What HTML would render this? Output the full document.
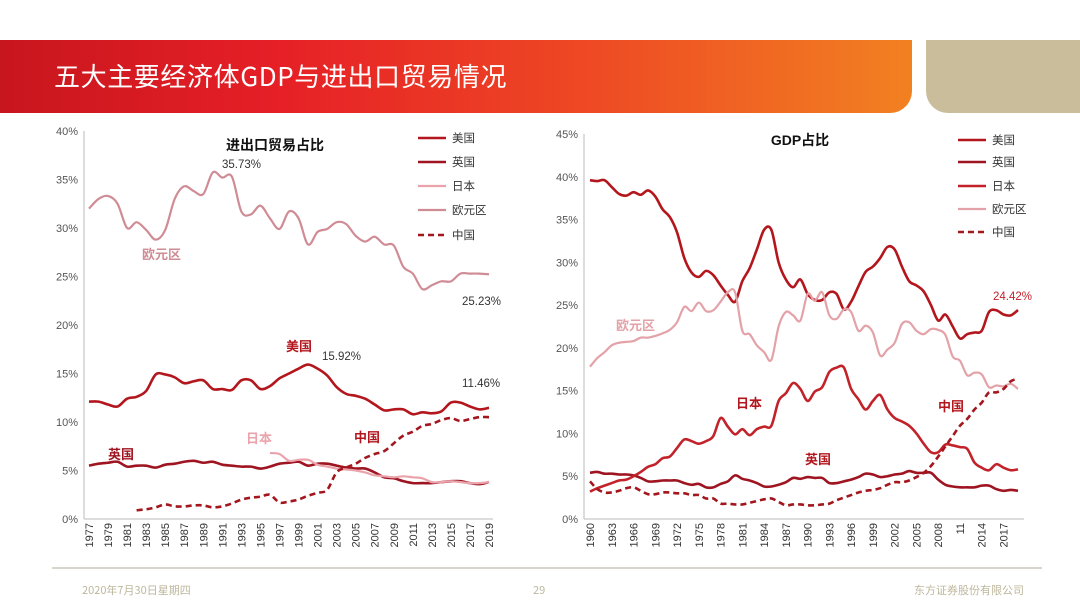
<!DOCTYPE html>
<html><head><meta charset="utf-8">
<style>
body{margin:0;width:1080px;height:608px;background:#fff;overflow:hidden;font-family:"Liberation Sans","Noto Sans CJK SC",sans-serif;position:relative}
#hdr{position:absolute;left:0;top:40px;width:912px;height:73px;background:linear-gradient(90deg,#c8161e 0%,#e61f26 30%,#ee4a24 65%,#f28121 100%);border-bottom-right-radius:22px}
#hdr span{position:absolute;left:54px;top:19px;color:#fff;font-size:26px;font-family:"Noto Sans CJK SC",sans-serif;letter-spacing:0.6px;line-height:34px}
#tan{position:absolute;left:926px;top:40px;width:154px;height:73px;background:#c9bd9b;border-bottom-left-radius:22px}
#fl{position:absolute;left:52px;top:567px;width:990px;height:2px;background:#d8d6cc}
.ft{position:absolute;top:582px;font-size:11px;color:#bdb79c;font-family:"Noto Sans CJK SC",sans-serif}
svg{position:absolute;left:0;top:0}
</style></head><body>
<div id="hdr"><span>五大主要经济体GDP与进出口贸易情况</span></div>
<div id="tan"></div>
<div id="fl"></div>
<div class="ft" style="left:82px">2020年7月30日星期四</div>
<div class="ft" style="left:533px">29</div>
<div class="ft" style="left:914px">东方证券股份有限公司</div>
<svg id="chart" width="1080" height="608"></svg>
<script>
const tradeYears=[];for(let y=1977;y<=2019;y++)tradeYears.push(y);
const tradeEuro=[32,33,33.3,32.5,30,30.6,29.8,28.8,29.8,33,34.3,33.8,33.5,35.73,35.2,35.3,31.7,31.4,32.3,31,29.9,31.7,31,28.3,29.6,29.9,30.6,30.4,29.2,28.6,29.1,28.3,28.2,26,25.3,23.7,24.1,24.5,24.5,25.3,25.3,25.3,25.23];
const tradeUS=[12.1,12.1,11.8,11.6,12.4,12.6,13.2,14.9,14.9,14.6,14,14.2,14.3,13.4,13.4,13.3,14.3,14.3,13.4,13.7,14.5,15,15.5,15.92,15.5,14.8,13.6,12.9,12.7,12.4,11.8,11.2,11.3,11.3,10.8,11,10.9,11.1,12,12,11.6,11.3,11.46];
const tradeUK=[5.5,5.7,5.8,5.9,5.4,5.5,5.5,5.3,5.6,5.7,5.9,6,5.8,5.9,5.6,5.5,5.4,5.4,5.2,5.4,5.7,5.8,5.9,5.5,5.7,5.7,5.5,5.3,5.2,5.2,4.8,4.3,4.2,3.9,3.7,3.7,3.7,3.8,3.9,3.9,3.7,3.6,3.8];
const tradeJapan=[null,null,null,null,null,null,null,null,null,null,null,null,null,null,null,null,null,null,null,6.8,6.7,6,6.1,6.1,5.6,5.4,5.2,5.1,5,4.8,4.5,4.4,4.3,4.4,4.3,4.2,3.8,3.8,3.9,3.8,3.7,3.7,3.8];
const tradeChina=[null,null,null,null,null,0.9,1,1.2,1.5,1.3,1.3,1.4,1.4,1.2,1.3,1.6,2,2.2,2.3,2.5,1.7,1.8,2,2.4,2.7,3,4.8,5.3,5.7,6.3,6.7,7,7.8,8.6,9,9.6,9.8,10.2,10.4,10.1,10.3,10.5,10.5];
const tradeTicks=[0,5,10,15,20,25,30,35,40];
const gdpYears=[];for(let y=1960;y<=2019;y++)gdpYears.push(y);
const gdpUS=[39.6,39.5,39.6,38.8,38,37.8,38.2,37.9,38.4,37.7,36.2,35.3,33.5,30.5,28.8,28.3,29,28.5,27.3,26.2,25.4,27.8,29.3,31.5,33.8,33.8,30,28,27.1,28,26.3,25.6,25.6,26.5,26.3,24.5,25.4,27.2,28.9,29.5,30.5,31.8,31.5,29.5,27.8,27.3,26.6,25,23.2,23.9,22.5,21.1,21.6,21.8,22,24.2,24.4,23.9,23.8,24.42];
const gdpJapan=[3.2,3.6,3.9,4.2,4.5,4.6,5,5.5,6.1,6.4,7.1,7.3,8.3,9.3,9.1,8.8,9.1,9.7,11.8,10.8,9.9,10.5,9.8,10.5,10.8,10.9,13.8,14.7,15.9,15.2,13.8,14.9,15.4,17.2,17.7,17.7,15.2,14,12.8,13.8,14.5,12.8,11.8,11.4,10.9,10,8.8,7.8,7.8,8.7,8.6,8.4,8.2,6.6,6,5.7,6.4,6,5.7,5.8];
const gdpUK=[5.4,5.5,5.3,5.3,5.2,5.2,5.1,4.8,4.4,4.4,4.5,4.5,4.5,4.2,4,4.1,3.7,3.7,4.1,4.4,5.1,4.7,4.5,4.2,3.8,3.8,4,4.3,4.8,4.7,4.9,4.8,4.8,4.2,4.2,4.4,4.6,4.9,5.3,5.2,4.9,5,5.2,5.3,5.6,5.4,5.4,5.4,4.6,4,3.8,3.7,3.7,3.7,3.9,3.9,3.5,3.3,3.4,3.3];
const gdpEuro=[17.8,18.8,19.5,20.3,20.6,20.7,20.8,21.2,21.2,21.4,21.7,22.1,23,24.8,24.3,25.3,24.3,24.4,25.4,26.5,26.5,22,21.6,20.3,19.5,18.6,22.5,24.2,23.8,23.2,26.3,25.5,26.5,23.8,23.4,24.5,24.2,22,22.6,21.8,19.1,19.8,20.6,22.8,23,22,21.6,22.2,22.1,21.5,19,18.5,16.8,17.1,16.9,15.4,15.6,15.5,15.8,15.2];
const gdpChina=[4.4,3.5,3.1,3.1,3.3,3.6,3.7,3.3,2.9,2.9,3.1,3.1,3,3,2.8,2.8,2.4,2.4,1.8,1.8,1.7,1.7,1.9,2.1,2.3,2.4,2,1.6,1.7,1.7,1.6,1.6,1.7,1.8,2.2,2.5,2.8,3.1,3.3,3.4,3.6,4,4.3,4.3,4.5,4.9,5.4,6.2,7.3,8.5,9.7,10.9,11.7,12.8,13.6,14.8,14.8,15.2,16.1,16.4];
const gdpTicks=[0,5,10,15,20,25,30,35,40,45];

const svg=document.getElementById('chart');const NS='http://www.w3.org/2000/svg';
function mk(t,a,txt){const e=document.createElementNS(NS,t);for(const k in a)e.setAttribute(k,a[k]);if(txt!=null)e.textContent=txt;svg.appendChild(e);return e;}
function smooth(pts){let d='M'+pts[0][0]+','+pts[0][1];for(let i=0;i<pts.length-1;i++){const p0=pts[i-1]||pts[i],p1=pts[i],p2=pts[i+1],p3=pts[i+2]||p2;const c1=[p1[0]+(p2[0]-p0[0])/6,p1[1]+(p2[1]-p0[1])/6],c2=[p2[0]-(p3[0]-p1[0])/6,p2[1]-(p3[1]-p1[1])/6];d+=' C'+c1.join(',')+' '+c2.join(',')+' '+p2.join(',');}return d;}
function chart(o){
  const x=i=>o.x0+(o.x1-o.x0)*i/(o.years.length-1);
  const y=v=>o.y0-(o.y0-o.yTop)*v/o.ticks[o.ticks.length-1];
  let e=mk('line',{x1:o.ax,y1:o.yTop,x2:o.ax,y2:o.y0,stroke:'#bbb','stroke-width':1});
  
  e=mk('line',{x1:o.ax,y1:o.y0,x2:o.axEnd,y2:o.y0,stroke:'#bbb','stroke-width':1});
  
  o.ticks.forEach(t=>{e=mk('text',{x:o.ax-6,y:y(t)+4,'text-anchor':'end','font-size':11,fill:'#555'},t+'%');
    });
  o.years.forEach((yr,i)=>{if(i%o.step)return;const lab=o.labFn?o.labFn(yr):String(yr);
    e=mk('text',{x:0,y:0,transform:`translate(${x(i)+4},${o.y0+4}) rotate(-90)`,'text-anchor':'end','font-size':11,fill:'#333'},lab);
    });
  o.series.forEach(s=>{let seg=[];const segs=[];s.data.forEach((v,i)=>{if(v==null){if(seg.length)segs.push(seg);seg=[];}else seg.push([x(i),y(v)]);});if(seg.length)segs.push(seg);
    segs.forEach(sg=>{const a={d:smooth(sg),fill:'none',stroke:s.c,'stroke-width':s.w||2.6,'stroke-linejoin':'round'};if(s.dash)a['stroke-dasharray']='6,4';
      e=mk('path',a);});});
  o.series.forEach((s,k)=>{const ly=o.legY[k];const a={x1:o.legX,y1:ly,x2:o.legX+28,y2:ly,stroke:s.c,'stroke-width':s.w||2.6};if(s.dash)a['stroke-dasharray']='6,4';
    e=mk('line',a);
    e=mk('text',{x:o.legX+34,y:ly+4,'font-size':11.5,fill:'#333'},s.label);});
  e=mk('text',{x:o.titleX,y:o.titleY,'text-anchor':'middle','font-size':14,'font-weight':'bold',fill:'#111'},o.title);
  
  return {x,y};
}
const L=chart({id:'trade',years:tradeYears,x0:89,x1:489,ax:84,axEnd:493,y0:519,yTop:131,ticks:tradeTicks,step:2,title:'进出口贸易占比',titleX:275,titleY:150,legX:418,legY:[138,162,186,210,235],
 series:[{n:'us',label:'美国',data:tradeUS,c:'#b3161d'},{n:'uk',label:'英国',data:tradeUK,c:'#9e1420'},{n:'japan',label:'日本',data:tradeJapan,c:'#eaa3ab',w:2.2},{n:'euro',label:'欧元区',data:tradeEuro,c:'#cf8c95',w:2.2},{n:'china',label:'中国',data:tradeChina,c:'#a3161e',dash:1}]});
const R=chart({id:'gdp',years:gdpYears,x0:590,x1:1018,ax:584,axEnd:1024,y0:519,yTop:134,ticks:gdpTicks,step:3,labFn:y=>y===2011?'11':String(y),title:'GDP占比',titleX:800,titleY:145,legX:958,legY:[140,162,186,209,232],
 series:[{n:'us',label:'美国',data:gdpUS,c:'#b3161d'},{n:'uk',label:'英国',data:gdpUK,c:'#9e1420'},{n:'japan',label:'日本',data:gdpJapan,c:'#c2232a'},{n:'euro',label:'欧元区',data:gdpEuro,c:'#e3a2a8',w:2.2},{n:'china',label:'中国',data:gdpChina,c:'#a3161e',dash:1}]});
function lab(t,x,y,c,name,b){const e=mk('text',{x:x,y:y,'font-size':b?13:11.5,'font-weight':b?'bold':'normal',fill:c},t);}
lab('35.73%',222,168,'#333','trade-peak-euro-label');
lab('欧元区',142,259,'#cf8c95','trade-euro-annotation',1);
lab('25.23%',462,305,'#333','trade-last-euro-label');
lab('美国',286,351,'#b3161d','trade-us-annotation',1);
lab('15.92%',322,360,'#333','trade-peak-us-label');
lab('11.46%',462,387,'#333','trade-last-us-label');
lab('英国',108,459,'#9e1420','trade-uk-annotation',1);
lab('日本',246,443,'#eaa3ab','trade-japan-annotation',1);
lab('中国',354,442,'#b3161d','trade-china-annotation',1);
lab('欧元区',616,330,'#e3a2a8','gdp-euro-annotation',1);
lab('24.42%',993,300,'#c2232a','gdp-last-us-label');
lab('日本',736,408,'#b3161d','gdp-japan-annotation',1);
lab('英国',805,464,'#b3161d','gdp-uk-annotation',1);
lab('中国',938,411,'#b3161d','gdp-china-annotation',1);
</script>
</body></html>
